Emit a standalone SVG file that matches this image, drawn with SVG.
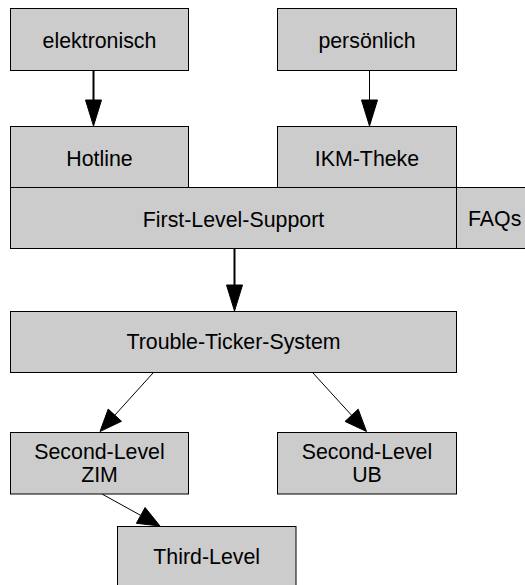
<svg xmlns="http://www.w3.org/2000/svg" width="525" height="585" viewBox="0 0 525 585">
  <style>
    .box { fill: #cccccc; stroke: #000000; stroke-width: 1; }
    .lbl { font-family: "Liberation Sans", Arial, sans-serif; font-size: 21.33px; fill: #000000; text-anchor: middle; }
    .edge { stroke: #000000; fill: none; }
    .head { fill: #000000; stroke: #000000; stroke-width: 1; stroke-linejoin: miter; }
  </style>
  <rect width="525" height="585" fill="#ffffff"/>

  <!-- connectors -->
  <g id="connectors">
    <line class="edge" x1="93.5" y1="70" x2="93.5" y2="101" stroke-width="2"/>
    <polygon class="head" points="85.5,100 101.5,100 93.5,126"/>
    <line class="edge" x1="369.5" y1="70" x2="369.5" y2="101" stroke-width="1"/>
    <polygon class="head" points="361.5,100 377.5,100 369.5,126"/>
    <line class="edge" x1="234.5" y1="248.5" x2="234.5" y2="286" stroke-width="2"/>
    <polygon class="head" points="226.5,285 242.5,285 234.5,311"/>
    <line class="edge" x1="153" y1="373" x2="114.8" y2="415.2" stroke-width="1"/>
    <polygon class="head" points="121.5,421.3 108.2,409.1 100,431.5"/>
    <line class="edge" x1="313" y1="373" x2="351.6" y2="415.3" stroke-width="1"/>
    <polygon class="head" points="358.2,409.2 345,421.4 366.5,431.5"/>
    <line class="edge" x1="102" y1="494" x2="140.7" y2="515.4" stroke-width="1"/>
    <polygon class="head" points="136.4,523.3 145.1,507.5 160,526"/>
  </g>

  <g id="elektronisch">
    <rect class="box" x="10.5" y="8.5" width="178" height="62"/>
    <text class="lbl" x="99.5" y="47.5">elektronisch</text>
  </g>
  <g id="persoenlich">
    <rect class="box" x="277.5" y="8.5" width="179" height="62"/>
    <text class="lbl" x="367" y="47.5">persönlich</text>
  </g>
  <g id="hotline">
    <rect class="box" x="10.5" y="126.5" width="178" height="61"/>
    <text class="lbl" x="99.5" y="165.5">Hotline</text>
  </g>
  <g id="ikm-theke">
    <rect class="box" x="277.5" y="126.5" width="179" height="61"/>
    <text class="lbl" x="367" y="165.5">IKM-Theke</text>
  </g>
  <g id="first-level">
    <rect class="box" x="10.5" y="187.5" width="446" height="61"/>
    <text class="lbl" x="233.5" y="226.5">First-Level-Support</text>
  </g>
  <g id="faqs">
    <rect class="box" x="456.5" y="187.5" width="80" height="61"/>
    <text class="lbl" x="468" y="226" style="text-anchor:start">FAQs</text>
  </g>
  <g id="trouble-ticker">
    <rect class="box" x="10.5" y="311.5" width="446" height="61"/>
    <text class="lbl" x="233.5" y="349">Trouble-Ticker-System</text>
  </g>
  <g id="second-level-zim">
    <rect class="box" x="10.5" y="432.5" width="178" height="61.5"/>
    <text class="lbl" x="99.5" y="459">Second-Level</text>
    <text class="lbl" x="99.5" y="482.3">ZIM</text>
  </g>
  <g id="second-level-ub">
    <rect class="box" x="277.5" y="432.5" width="179" height="61.5"/>
    <text class="lbl" x="367" y="459">Second-Level</text>
    <text class="lbl" x="367" y="482.3">UB</text>
  </g>
  <g id="third-level">
    <rect class="box" x="117.5" y="526.5" width="178.5" height="62"/>
    <text class="lbl" x="206.7" y="564.3">Third-Level</text>
  </g>
</svg>
